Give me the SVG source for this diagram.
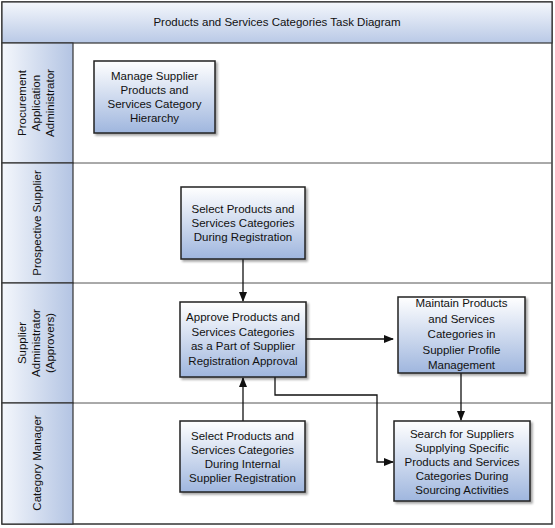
<svg xmlns="http://www.w3.org/2000/svg" width="555" height="528" viewBox="0 0 555 528">
<defs>
<linearGradient id="box" x1="0" y1="0" x2="0" y2="1"><stop offset="0" stop-color="#ffffff"/><stop offset="1" stop-color="#9fb6de"/></linearGradient>
<linearGradient id="title" x1="0" y1="0" x2="0" y2="1"><stop offset="0" stop-color="#f4f7fc"/><stop offset="1" stop-color="#b9c9e6"/></linearGradient>
<linearGradient id="lane" x1="0" y1="0" x2="1" y2="0"><stop offset="0" stop-color="#f4f7fc"/><stop offset="1" stop-color="#b3c4e3"/></linearGradient>
<filter id="sh" x="-10%" y="-10%" width="130%" height="130%"><feDropShadow dx="2" dy="2" stdDeviation="1.2" flood-color="#000" flood-opacity="0.35"/></filter>
<marker id="ah" markerWidth="10" markerHeight="8" refX="9" refY="4" orient="auto" markerUnits="userSpaceOnUse"><path d="M0,0 L10,4 L0,8 z" fill="#111"/></marker>
</defs>
<style>
text{font-family:"Liberation Sans",Arial,sans-serif;font-size:11.5px;fill:#111;text-anchor:middle}
.b rect{fill:url(#box);stroke:#222;stroke-width:1.5;filter:url(#sh)}
.ln{fill:url(#lane);stroke:#333;stroke-width:1.2}
.c path{fill:none;stroke:#111;stroke-width:1.3;marker-end:url(#ah)}
</style>
<rect x="2" y="2" width="550" height="522" fill="#fff" stroke="#333" stroke-width="1.5"/>
<g id="title-band"><rect x="2" y="2" width="550" height="41" fill="url(#title)" stroke="#333" stroke-width="1.2"/><text x="277" y="26">Products and Services Categories Task Diagram</text></g>
<g id="lanes">
<line x1="2" y1="163" x2="552" y2="163" stroke="#555"/>
<line x1="2" y1="283" x2="552" y2="283" stroke="#555"/>
<line x1="2" y1="403" x2="552" y2="403" stroke="#555"/>
<rect class="ln" x="2" y="43" width="71" height="120"/>
<rect class="ln" x="2" y="163" width="71" height="120"/>
<rect class="ln" x="2" y="283" width="71" height="120"/>
<rect class="ln" x="2" y="403" width="71" height="121"/>
<text transform="translate(37,103) rotate(-90)"><tspan x="0" y="-11">Procurement</tspan><tspan x="0" y="3">Application</tspan><tspan x="0" y="17">Administrator</tspan></text>
<text transform="translate(37,223) rotate(-90)"><tspan x="0" y="4">Prospective Supplier</tspan></text>
<text transform="translate(37,343) rotate(-90)"><tspan x="0" y="-11">Supplier</tspan><tspan x="0" y="3">Administrator</tspan><tspan x="0" y="17">(Approvers)</tspan></text>
<text transform="translate(37,463) rotate(-90)"><tspan x="0" y="4">Category Manager</tspan></text>
</g>
<g class="c" id="connectors">
<path d="M243,259 V301"/>
<path d="M243,421 V378"/>
<path d="M306,339 H393"/>
<path d="M461,373 V420"/>
<path d="M275,377 V395 H377 V462 H393"/>
</g>
<g class="b" id="n1"><rect x="94" y="61" width="121" height="72"/><text x="154.5" y="80">Manage Supplier<tspan x="154.5" dy="14">Products and</tspan><tspan x="154.5" dy="14">Services Category</tspan><tspan x="154.5" dy="14">Hierarchy</tspan></text></g>
<g class="b" id="n2"><rect x="181" y="187" width="124" height="72"/><text x="243" y="213">Select Products and<tspan x="243" dy="14">Services Categories</tspan><tspan x="243" dy="14">During Registration</tspan></text></g>
<g class="b" id="n3"><rect x="180" y="302" width="126" height="75"/><text x="243" y="321">Approve Products and<tspan x="243" dy="14.5">Services Categories</tspan><tspan x="243" dy="14.5">as a Part of Supplier</tspan><tspan x="243" dy="14.5">Registration Approval</tspan></text></g>
<g class="b" id="n4"><rect x="398" y="297" width="127" height="76"/><text x="461.5" y="307">Maintain Products<tspan x="461.5" dy="15.5">and Services</tspan><tspan x="461.5" dy="15.5">Categories in</tspan><tspan x="461.5" dy="15.5">Supplier Profile</tspan><tspan x="461.5" dy="15.5">Management</tspan></text></g>
<g class="b" id="n5"><rect x="180" y="421" width="125" height="71"/><text x="242.5" y="440">Select Products and<tspan x="242.5" dy="14">Services Categories</tspan><tspan x="242.5" dy="14">During Internal</tspan><tspan x="242.5" dy="14">Supplier Registration</tspan></text></g>
<g class="b" id="n6"><rect x="394" y="421" width="136" height="80"/><text x="462" y="438">Search for Suppliers<tspan x="462" dy="14">Supplying Specific</tspan><tspan x="462" dy="14">Products and Services</tspan><tspan x="462" dy="14">Categories During</tspan><tspan x="462" dy="14">Sourcing Activities</tspan></text></g>
</svg>
